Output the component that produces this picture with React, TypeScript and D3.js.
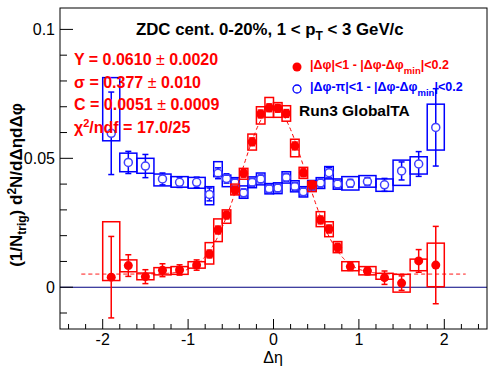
import React from 'react';
import * as d3 from 'd3';

// bin edges in delta-eta: 0.2 wide outside |eta|<0.8, 0.1 wide inside
const binEdges = [
  -2.0, -1.8, -1.6, -1.4, -1.2, -1.0, -0.8, -0.7, -0.6, -0.5, -0.4, -0.3, -0.2, -0.1, 0.0,
  0.1, 0.2, 0.3, 0.4, 0.5, 0.6, 0.7, 0.8, 1.0, 1.2, 1.4, 1.6, 1.8, 2.0,
];

// near side |dphi|<1
const redY = [
  0.0039, 0.0084, 0.0041, 0.0066, 0.0067, 0.0086, 0.0129, 0.0222, 0.028, 0.0377, 0.0442, 0.0564,
  0.0672, 0.0696, 0.0694, 0.0674, 0.0548, 0.0444, 0.0397, 0.0261, 0.0226, 0.0155, 0.008, 0.0063,
  0.0037, 0.0016, 0.0102, 0.0086,
];
const redStat = [
  0.0158, 0.0042, 0.0027, 0.0025, 0.002, 0.002, 0.0015, 0.0015, 0.0015, 0.0015, 0.0015, 0.0015,
  0.0015, 0.0015, 0.0015, 0.0015, 0.0015, 0.0015, 0.0015, 0.0015, 0.0015, 0.0015, 0.0015, 0.0015,
  0.0026, 0.0028, 0.0044, 0.015,
];
const redSysLo = [
  0.0026, 0.006, 0.0029, 0.0048, 0.005, 0.0074, 0.009, 0.0177, 0.0248, 0.0358, 0.0419, 0.0532,
  0.0633, 0.0659, 0.0659, 0.0644, 0.0506, 0.0422, 0.0371, 0.0235, 0.0196, 0.0134, 0.0064, 0.0048,
  0.0031, -0.0019, 0.0064, 0.0002,
];
const redSysHi = [
  0.0254, 0.0106, 0.0055, 0.0076, 0.008, 0.0099, 0.0173, 0.0265, 0.03, 0.04, 0.0461, 0.0594,
  0.07, 0.0736, 0.0716, 0.0704, 0.0574, 0.0465, 0.0409, 0.0293, 0.0254, 0.0177, 0.0099, 0.008,
  0.0054, 0.005, 0.0109, 0.0171,
];

// away side |dphi-pi|<1
const blueY = [
  0.0597, 0.0484, 0.047, 0.042, 0.0407, 0.0407, 0.036, 0.0442, 0.0422, 0.0405, 0.0366, 0.0407,
  0.042, 0.0382, 0.0385, 0.0426, 0.0391, 0.037, 0.0393, 0.0404, 0.0444, 0.04, 0.0403, 0.041,
  0.0397, 0.0451, 0.0478, 0.062,
];
const blueStat = [
  0.016, 0.0043, 0.0045, 0.0023, 0.002, 0.002, 0.0025, 0.0021, 0.0018, 0.0015, 0.0015, 0.0015,
  0.0015, 0.0015, 0.0015, 0.0015, 0.0015, 0.0015, 0.0015, 0.0015, 0.002, 0.0015, 0.0015, 0.0015,
  0.0025, 0.0035, 0.0048, 0.015,
];
const blueSysLo = [
  0.0568, 0.0448, 0.0442, 0.0393, 0.0388, 0.0384, 0.032, 0.0429, 0.039, 0.0385, 0.0345, 0.0386,
  0.0397, 0.0362, 0.0363, 0.0404, 0.037, 0.035, 0.0372, 0.0383, 0.042, 0.038, 0.0377, 0.0388,
  0.0372, 0.0395, 0.0439, 0.0532,
];
const blueSysHi = [
  0.0813, 0.052, 0.05, 0.0439, 0.0429, 0.0426, 0.039, 0.0487, 0.0435, 0.0425, 0.0393, 0.0428,
  0.0443, 0.0402, 0.0405, 0.0448, 0.0413, 0.039, 0.0414, 0.0425, 0.0468, 0.042, 0.0429, 0.0433,
  0.042, 0.0493, 0.0506, 0.071,
];

// gaussian + constant fit on near side
const fitY = 0.061;
const fitSigma = 0.377;
const fitC = 0.0051;
const fitRange = [-2.25, 2.25];

const xTicks = [-2, -1, 0, 1, 2];
const yTicks = [0, 0.05, 0.1];

const W = 496;
const H = 374;
const font = "'Liberation Sans', Arial, Helvetica, sans-serif";
const RED = '#ff0000';
const BLUE = '#0000ff';

const x = d3.scaleLinear().domain([-2.5, 2.5]).range([60, 487]);
const y = d3.scaleLinear().domain([-0.0162, 0.1083]).range([329, 8]);

const bins = binEdges.slice(0, -1).map((lo, i) => ({ lo, hi: binEdges[i + 1], c: (lo + binEdges[i + 1]) / 2 }));

function Series({ vals, stat, lo, hi, color, open }: any) {
  const r = 4;
  return (
    <g>
      {bins.map((b, i) => (
        <rect key={'s' + i} x={x(b.lo)} y={y(hi[i])} width={x(b.hi) - x(b.lo)} height={y(lo[i]) - y(hi[i])}
          fill="none" stroke={color} strokeWidth={1.5} />
      ))}
      {bins.map((b, i) => {
        const cx = x(b.c);
        const cy = y(vals[i]);
        const top = y(vals[i] + stat[i]);
        const bot = y(vals[i] - stat[i]);
        return (
          <g key={'e' + i} stroke={color} strokeWidth={1.5}>
            {cy - top > r && <line x1={cx} x2={cx} y1={top} y2={cy - r} />}
            {bot - cy > r && <line x1={cx} x2={cx} y1={cy + r} y2={bot} />}
            <line x1={cx - 3} x2={cx + 3} y1={top} y2={top} />
            <line x1={cx - 3} x2={cx + 3} y1={bot} y2={bot} />
          </g>
        );
      })}
      {bins.map((b, i) =>
        open ? (
          <circle key={'m' + i} cx={x(b.c)} cy={y(vals[i])} r={r} fill="none" stroke="#4040ff" strokeWidth={1.5} />
        ) : (
          <circle key={'m' + i} cx={x(b.c)} cy={y(vals[i])} r={r + 0.5} fill={RED} />
        )
      )}
    </g>
  );
}

export default function App() {
  const fitFn = (e: number) =>
    (fitY / (Math.sqrt(2 * Math.PI) * fitSigma)) * Math.exp(-(e * e) / (2 * fitSigma * fitSigma)) + fitC;
  const fitPts = d3.range(fitRange[0], fitRange[1] + 1e-9, 0.01);
  const fitPath = d3.line<number>().x((e) => x(e)).y((e) => y(fitFn(e)))(fitPts) || '';

  const xMinor = d3.range(-2.4, 2.5, 0.2).map((v) => Math.round(v * 10) / 10);
  const yMinor = d3.range(-0.01, 0.105, 0.01).map((v) => Math.round(v * 1000) / 1000);

  return (
    <svg width={W} height={H} style={{ position: 'absolute', left: 0, top: 0, background: '#fff' }} fontFamily={font}>
      <rect width={W} height={H} fill="#fff" />
      {/* zero line */}
      <line x1={x(-2.5)} x2={x(2.5)} y1={y(0)} y2={y(0)} stroke="#000080" strokeWidth={1.2} />

      <Series vals={blueY} stat={blueStat} lo={blueSysLo} hi={blueSysHi} color={BLUE} open />
      <Series vals={redY} stat={redStat} lo={redSysLo} hi={redSysHi} color={RED} />
      <path d={fitPath} fill="none" stroke={RED} strokeWidth={1} strokeDasharray="4,3" />

      {/* frame */}
      <rect x={60} y={8} width={427} height={321} fill="none" stroke="#000" strokeWidth={1} />

      {/* x axis ticks */}
      {xMinor.map((v) => {
        const major = xTicks.includes(v);
        return <line key={'xt' + v} x1={x(v)} x2={x(v)} y1={329} y2={329 - (major ? 10 : 5)} stroke="#000" />;
      })}
      {xTicks.map((v) => (
        <text key={'xl' + v} x={x(v)} y={345} textAnchor="middle" fontSize={16}>{v}</text>
      ))}
      <text x={273} y={363} textAnchor="middle" fontSize={16}>Δη</text>

      {/* y axis ticks */}
      {yMinor.map((v) => {
        const major = yTicks.some((t) => Math.abs(t - v) < 1e-6);
        return <line key={'yt' + v} x1={60} x2={60 + (major ? 13 : 7)} y1={y(v)} y2={y(v)} stroke="#000" />;
      })}
      {yTicks.map((v) => (
        <text key={'yl' + v} x={55} y={y(v) + 6} textAnchor="end" fontSize={16}>{v === 0 ? '0' : String(v)}</text>
      ))}
      <text transform="translate(22,185) rotate(-90)" textAnchor="middle" fontSize={17} fontWeight="bold">
        (1/N<tspan fontSize={12} dy={4}>trig</tspan><tspan dy={-4}>) d</tspan>
        <tspan fontSize={12} dy={-6}>2</tspan><tspan dy={6}>N/dΔηdΔφ</tspan>
      </text>

      {/* title */}
      <text x={136} y={35} fontSize={16.8} fontWeight="bold">
        ZDC cent. 0-20%, 1 &lt; p<tspan fontSize={12} dy={5}>T</tspan><tspan dy={-5}> &lt; 3 GeV/c</tspan>
      </text>

      {/* fit result */}
      <g fill={RED} fontSize={16} fontWeight="bold">
        <text x={74} y={65}>Y = 0.0610 <tspan fontWeight="normal">±</tspan> 0.0020</text>
        <text x={74} y={87.5}>σ = 0.377 <tspan fontWeight="normal">±</tspan> 0.010</text>
        <text x={74} y={110}>C = 0.0051 <tspan fontWeight="normal">±</tspan> 0.0009</text>
        <text x={74} y={133}>χ<tspan fontSize={11} dy={-6}>2</tspan><tspan dy={6}>/ndf = 17.0/25</tspan></text>
      </g>

      {/* legend */}
      <circle cx={297} cy={67} r={4.5} fill={RED} />
      <text x={310} y={69} fontSize={12.5} fontWeight="bold" fill={RED}>
        |Δφ|&lt;1 - |Δφ-Δφ<tspan fontSize={9.5} dy={5}>min</tspan><tspan dy={-5}>|&lt;0.2</tspan>
      </text>
      <circle cx={297} cy={89} r={4} fill="none" stroke={BLUE} strokeWidth={1.3} />
      <text x={310} y={91} fontSize={12.5} fontWeight="bold" fill={BLUE}>
        |Δφ-π|&lt;1 - |Δφ-Δφ<tspan fontSize={9.5} dy={5}>min</tspan><tspan dy={-5}>|&lt;0.2</tspan>
      </text>
      <text x={299} y={116} fontSize={15.5} fontWeight="bold">Run3 GlobalTA</text>
    </svg>
  );
}
